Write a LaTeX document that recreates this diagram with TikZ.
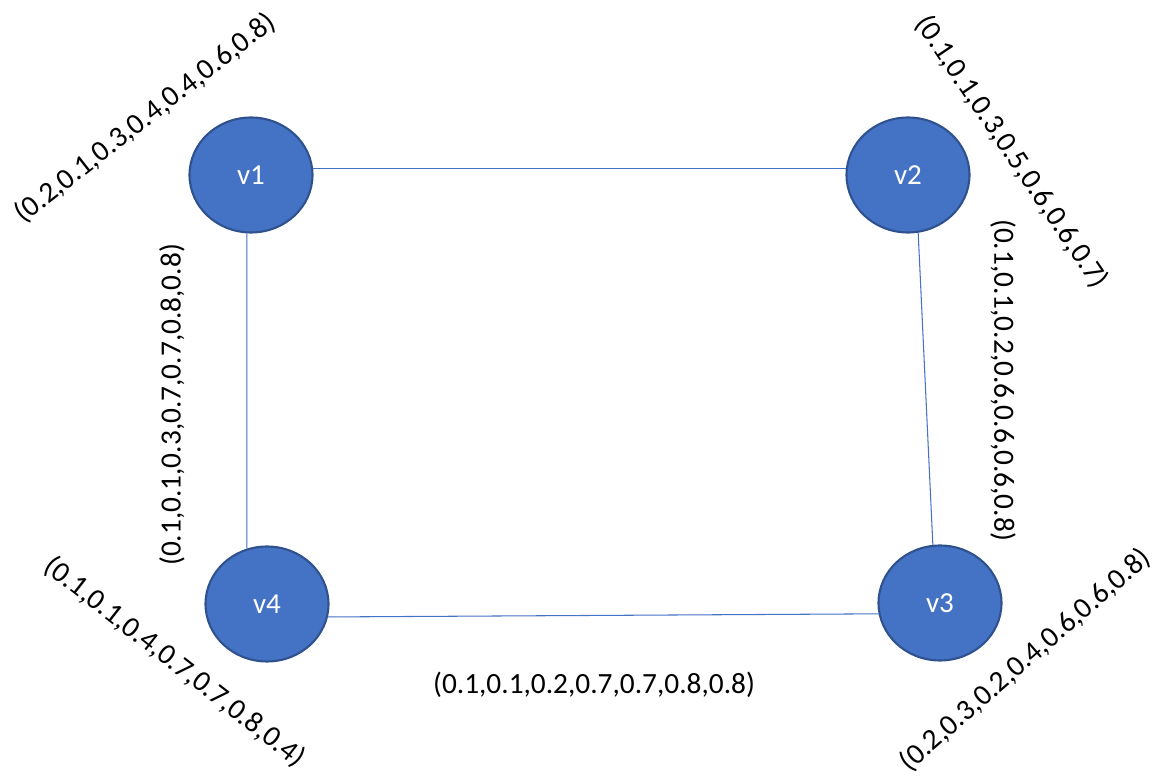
\documentclass[tikz,border=0pt]{standalone}
\usepackage{fontspec}
\setmainfont{Carlito}
\usetikzlibrary{shapes.geometric}
\definecolor{nodefill}{HTML}{4472C4}
\definecolor{nodeedge}{HTML}{2F528F}
\begin{document}
\begin{tikzpicture}[x=0.02cm,y=-0.02cm,
  vertex/.style={ellipse,draw=nodeedge,line width=1.2pt,fill=nodefill,text=white,
    minimum width=2.46cm,minimum height=2.3cm,inner sep=0pt,font=\fontsize{16.5}{18}\selectfont},
  edge/.style={draw=nodefill,line width=0.6pt},
  lbl/.style={inner sep=0pt,font=\fontsize{16.7}{19}\selectfont}]
\useasboundingbox (0,0) rectangle (1161,776);
\node[vertex] (v1) at (251,175) {v1};
\node[vertex] (v2) at (908,175) {v2};
\node[vertex] (v3) at (940,603) {v3};
\node[vertex] (v4) at (267,604) {v4};
\draw[edge] (v1.6) -- (v2.174);
\draw[edge] (v1.-94) -- (v4.110);
\draw[edge] (v2.-80) -- (v3.97);
\draw[edge] (v4.-12) -- (v3.-170);
\node[lbl,rotate=38] (l1) at (145,118) {(0.2,0.1,0.3,0.4,0.4,0.6,0.8)};
\node[lbl,rotate=-56] (l2) at (1012,152) {(0.1,0.1,0.3,0.5,0.6,0.6,0.7)};
\node[lbl,rotate=-90] (l3) at (1003,380) {(0.1,0.1,0.2,0.6,0.6,0.6,0.8)};
\node[lbl,rotate=90] (l4) at (172,405) {(0.1,0.1,0.3,0.7,0.7,0.8,0.8)};
\node[lbl,rotate=-38] (l5) at (175,662) {(0.1,0.1,0.4,0.7,0.7,0.8,0.4)};
\node[lbl,rotate=41] (l6) at (1025,660) {(0.2,0.3,0.2,0.4,0.6,0.6,0.8)};
\node[lbl] (l7) at (594,685) {(0.1,0.1,0.2,0.7,0.7,0.8,0.8)};
\end{tikzpicture}
\end{document}
